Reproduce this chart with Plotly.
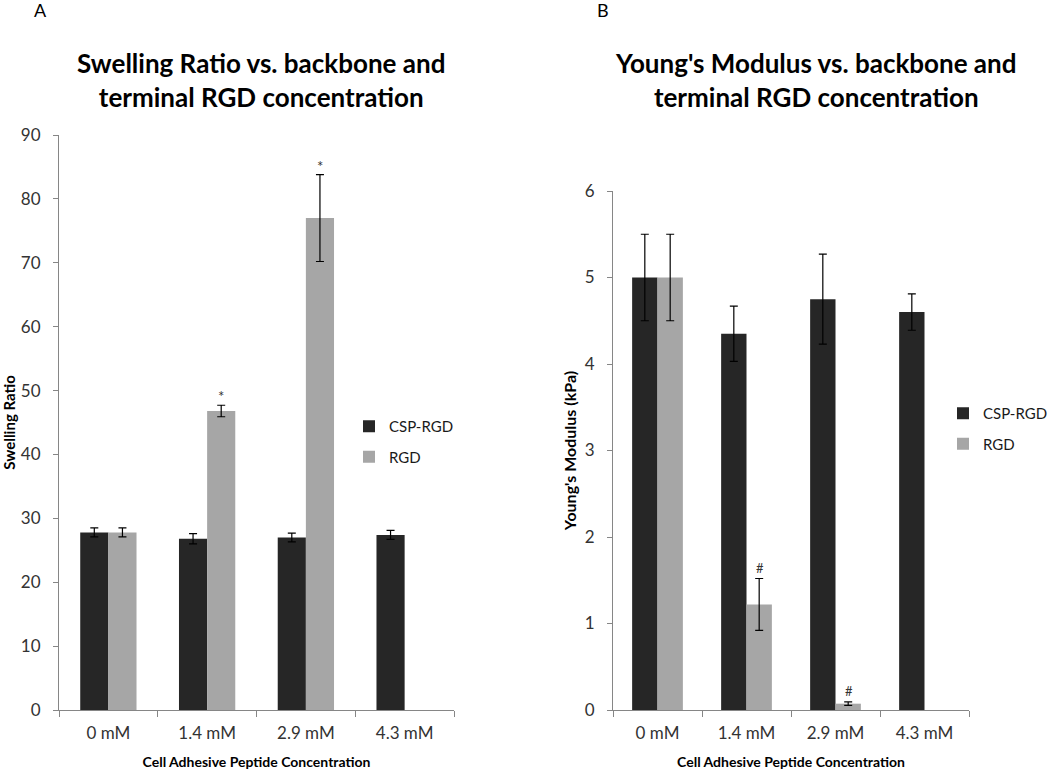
import plotly.graph_objects as go

categories = ["0 mM", "1.4 mM", "2.9 mM", "4.3 mM"]

# Panel A: Swelling ratio
swell_csp = [27.8, 26.8, 27.0, 27.4]
swell_csp_err = [0.7, 0.8, 0.7, 0.7]
swell_rgd = [27.8, 46.8, 77.0, None]
swell_rgd_err = [0.7, 0.9, 6.8, None]
swell_marks = [None, "*", "*", None]

# Panel B: Young's modulus (kPa)
mod_csp = [5.0, 4.35, 4.75, 4.6]
mod_csp_err = [0.5, 0.32, 0.52, 0.21]
mod_rgd = [5.0, 1.22, 0.073, None]
mod_rgd_err = [0.5, 0.3, 0.02, None]
mod_marks = [None, "#", "#", None]

DARK = "#262626"
LIGHT = "#a6a6a6"
AXIS = "#868686"
TXT = "#1a1a1a"
FONT = "Lato"

fig = go.Figure()

def add_bars(yvals, errs, name, color, xa, ya, legend, group):
    fig.add_trace(go.Bar(
        x=categories, y=yvals, name=name, marker=dict(color=color, line=dict(width=0)),
        error_y=dict(type="data", array=[e if e is not None else 0 for e in errs],
                     color="black", thickness=1.2, width=4, visible=True),
        xaxis=xa, yaxis=ya, legend=legend, legendgroup=group,
    ))

add_bars(swell_csp, swell_csp_err, "CSP-RGD", DARK, "x", "y", "legend", "a1")
add_bars(swell_rgd, swell_rgd_err, "RGD", LIGHT, "x", "y", "legend", "a2")
add_bars(mod_csp, mod_csp_err, "CSP-RGD", DARK, "x2", "y2", "legend2", "b1")
add_bars(mod_rgd, mod_rgd_err, "RGD", LIGHT, "x2", "y2", "legend2", "b2")

annotations = []
# significance marks above RGD bars
for i, m in enumerate(swell_marks):
    if m:
        annotations.append(dict(x=categories[i], y=swell_rgd[i] + swell_rgd_err[i], xref="x", yref="y",
                                text=m, showarrow=False, xshift=14, yshift=9,
                                font=dict(family=FONT, size=15, color="#333")))
for i, m in enumerate(mod_marks):
    if m:
        annotations.append(dict(x=categories[i], y=mod_rgd[i] + mod_rgd_err[i], xref="x2", yref="y2",
                                text=m, showarrow=False, xshift=13, yshift=11,
                                font=dict(family=FONT, size=13, color="#333")))

# panel titles and letters
annotations += [
    dict(x=261/1050, y=1-80/771, xref="paper", yref="paper", showarrow=False,
         xanchor="center", yanchor="middle",
         text="<b>Swelling Ratio vs. backbone and<br>terminal RGD concentration</b>",
         font=dict(family=FONT, size=26, color="black"), align="center"),
    dict(x=815/1050, y=1-80/771, xref="paper", yref="paper", showarrow=False,
         xanchor="center", yanchor="middle",
         text="<b>Young's Modulus vs. backbone and<br>terminal RGD concentration</b>",
         font=dict(family=FONT, size=26, color="black"), align="center"),
    dict(x=40/1050, y=1-10/771, xref="paper", yref="paper", showarrow=False,
         xanchor="center", yanchor="middle",
         text="A", font=dict(family=FONT, size=18, color="black")),
    dict(x=603/1050, y=1-10/771, xref="paper", yref="paper", showarrow=False,
         xanchor="center", yanchor="middle",
         text="B", font=dict(family=FONT, size=18, color="black")),
]

tickfont = dict(family=FONT, size=17, color="#333")

xcommon = dict(type="category", showline=True, linecolor=AXIS, linewidth=1,
               ticks="outside", tickson="boundaries", ticklen=6, tickcolor=AXIS,
               tickfont=tickfont, showgrid=False, zeroline=False, automargin=False,
               ticklabelstandoff=8)
ycommon = dict(showline=True, linecolor=AXIS, linewidth=1, ticks="outside", ticklen=5,
               tickcolor=AXIS, tickfont=tickfont, showgrid=False, zeroline=False, automargin=False,
               ticklabelstandoff=9)

fig.update_layout(
    width=1050, height=771,
    margin=dict(l=0, r=0, t=0, b=0, autoexpand=False),
    paper_bgcolor="white", plot_bgcolor="white",
    barmode="group", bargap=0.43, bargroupgap=0,
    font=dict(family=FONT, color=TXT),
    xaxis=dict(domain=[59/1050, 454/1050], anchor="y",
               title=dict(text="<b>Cell Adhesive Peptide Concentration</b>",
                          font=dict(family=FONT, size=14, color="black"), standoff=14),
               **xcommon),
    yaxis=dict(domain=[(771-710)/771, (771-135)/771], anchor="x", range=[0, 90], dtick=10,
               title=dict(text="<b>Swelling Ratio</b>",
                          font=dict(family=FONT, size=15, color="black"), standoff=3), **ycommon),
    xaxis2=dict(domain=[613/1050, 969/1050], anchor="y2",
                title=dict(text="<b>Cell Adhesive Peptide Concentration</b>",
                           font=dict(family=FONT, size=14, color="black"), standoff=14),
                **xcommon),
    yaxis2=dict(domain=[(771-710)/771, (771-191)/771], anchor="x2", range=[0, 6], dtick=1,
                title=dict(text="<b>Young's Modulus (kPa)</b>",
                           font=dict(family=FONT, size=16, color="black"), standoff=4), **ycommon),
    legend=dict(x=349/1050, y=1-410/771, xanchor="left", yanchor="top",
                font=dict(family=FONT, size=15, color=TXT), bgcolor="rgba(0,0,0,0)",
                itemwidth=30, tracegroupgap=8),
    legend2=dict(x=943/1050, y=1-397/771, xanchor="left", yanchor="top",
                 font=dict(family=FONT, size=15, color=TXT), bgcolor="rgba(0,0,0,0)",
                 itemwidth=30, tracegroupgap=8),
    annotations=annotations,
)

fig.write_html("out.html", config={"displayModeBar": False},
               post_script="document.body.style.margin='0';")
